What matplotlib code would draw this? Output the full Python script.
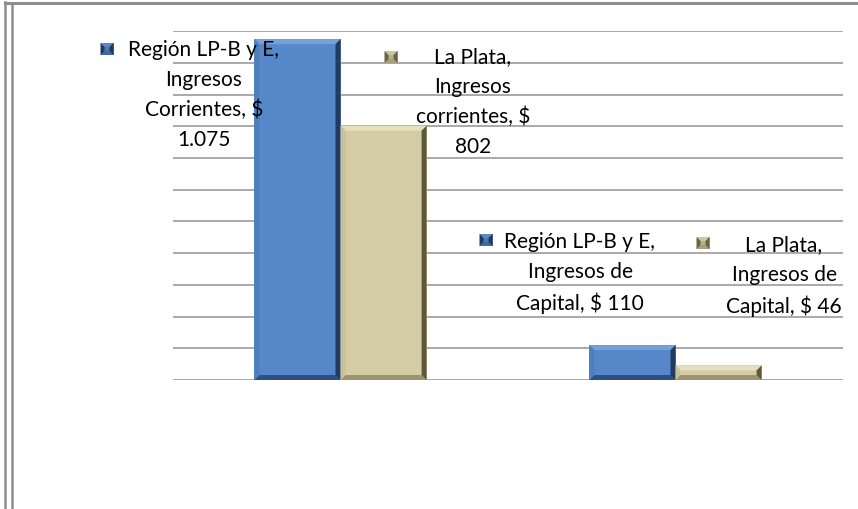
import matplotlib.pyplot as plt
import numpy as np
from matplotlib.patches import Polygon
from matplotlib.transforms import IdentityTransform
from matplotlib.lines import Line2D

# Ingresos por región (millones de $)
categorias = ['Ingresos Corrientes', 'Ingresos de Capital']
region_lpbe = [1075, 110]
la_plata = [802, 46]

etiquetas = [
    ['Región LP-B y E,', 'Ingresos', 'Corrientes, $'],
    ['La Plata,', 'Ingresos', 'corrientes, $'],
    ['Región LP-B y E,', 'Ingresos de', 'Capital, $'],
    ['La Plata,', 'Ingresos de', 'Capital, $'],
]

W, H = 858, 510
plt.rcParams['font.family'] = ['Lato', 'DejaVu Sans']

fig = plt.figure(figsize=(W / 100, H / 100), dpi=100)
ax = fig.add_axes([173 / W, 1 - 381 / H, 670 / W, 348.8 / H])

azul = {'face': '#5688C9', 'top': '#76A0D6', 'left': '#4E7EBB',
        'right': '#213C60', 'bottom': '#2E5080'}
caqui = {'face': '#D4CCA4', 'top': '#E6DFBF', 'left': '#C9C199',
         'right': '#5E5838', 'bottom': '#9A9470'}
icono_azul = {'face': '#4A78B2', 'top': '#5C8AC4', 'bottom': '#3F6AA0',
              'left': '#1F3A5E', 'right': '#1F3A5E'}
icono_caqui = {'face': '#B8B08A', 'top': '#CFC7A1', 'bottom': '#A8A07C',
               'left': '#6A6446', 'right': '#6A6446'}

x = np.arange(len(categorias))
ancho = 0.257
b1 = ax.bar(x - ancho / 2, region_lpbe, ancho, color=azul['face'], zorder=2)
b2 = ax.bar(x + ancho / 2, la_plata, ancho, color=caqui['face'], zorder=2)

ax.set_xlim(-0.5, 1.5)
ax.set_ylim(0, 1100)
for v in range(0, 1101, 100):
    ax.axhline(v, color='#a3a3a3', lw=1.3, zorder=1)
ax.set_xticks([])
ax.set_yticks([])
for s in ax.spines.values():
    s.set_visible(False)


def bisel(x0, y0, x1, y1, cols, b):
    # marco biselado en coordenadas de pantalla
    ident = IdentityTransform()
    b = min(b, (y1 - y0) / 2)
    fig.add_artist(Polygon([(x0, y0), (x1, y0), (x1, y1), (x0, y1)],
                           facecolor=cols['face'], edgecolor='none',
                           transform=ident, zorder=3))
    polys = [
        ('top', [(x0, y1), (x1, y1), (x1 - b, y1 - b), (x0 + b, y1 - b)]),
        ('bottom', [(x0, y0), (x1, y0), (x1 - b, y0 + b), (x0 + b, y0 + b)]),
        ('left', [(x0, y0), (x0, y1), (x0 + b, y1 - b), (x0 + b, y0 + b)]),
        ('right', [(x1, y0), (x1, y1), (x1 - b, y1 - b), (x1 - b, y0 + b)]),
    ]
    for k, p in polys:
        fig.add_artist(Polygon(p, closed=True, facecolor=cols[k],
                               edgecolor='none', transform=ident, zorder=3))


for barras, cols in ((b1, azul), (b2, caqui)):
    for r in barras:
        (px0, py0), (px1, py1) = ax.transData.transform(
            [(r.get_x(), 0), (r.get_x() + r.get_width(), r.get_height())])
        bisel(px0, py0, px1, py1, cols, 5)


def fmt(v):
    return f'{v:,}'.replace(',', '.')


# posición de cada etiqueta (centro del texto, primera línea) y del icono
pos_texto = [(204, 52), (473, 59), (580, 244), (784, 247)]
pos_icono = [(107, 50), (391, 58), (486, 241), (703, 244)]
valores = [region_lpbe[0], la_plata[0], region_lpbe[1], la_plata[1]]
iconos = [icono_azul, icono_caqui, icono_azul, icono_caqui]

for i, (lineas, v) in enumerate(zip(etiquetas, valores)):
    if i < 2:
        texto = '\n'.join(lineas + [fmt(v)])
    else:
        texto = '\n'.join(lineas[:-1] + [lineas[-1] + ' ' + fmt(v)])
    tx, ty = pos_texto[i]
    fig.text(tx / W, 1 - (ty - 12) / H, texto, ha='center', va='top',
             multialignment='center', fontsize=15, linespacing=1.62,
             color='black', zorder=5)
    ix, iy = pos_icono[i]
    bisel(ix - 6.5, H - iy - 6, ix + 6.5, H - iy + 6, iconos[i], 4)

# marco de la figura
fig.add_artist(Line2D([5 / W, 1], [1 - 3.8 / H, 1 - 3.8 / H],
                      color='#8e8e8e', lw=2.2))
fig.add_artist(Line2D([4.6 / W, 4.6 / W], [0, 1 - 3 / H],
                      color='#8e8e8e', lw=1.8))
fig.add_artist(Line2D([12 / W, 12 / W], [0, 1 - 4 / H],
                      color='#8e8e8e', lw=1.8))

fig.savefig('out.png', dpi=100)
